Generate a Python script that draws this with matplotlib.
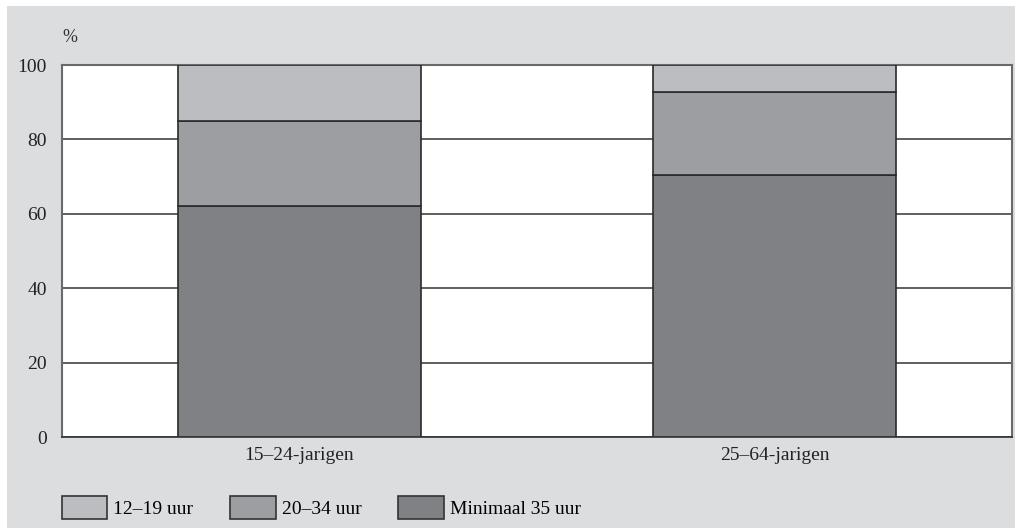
import matplotlib.pyplot as plt
from matplotlib.patches import Rectangle

groups = ["15–24-jarigen", "25–64-jarigen"]
series = ["12–19 uur", "20–34 uur", "Minimaal 35 uur"]
min35 = [62, 70.4]
uur20_34 = [23, 22.4]
uur12_19 = [15, 7.2]
yticks = [0, 20, 40, 60, 80, 100]

colors = {"12–19 uur": "#bcbdc0", "20–34 uur": "#9d9ea2", "Minimaal 35 uur": "#808185"}
bg = "#dcdddf"

plt.rcParams["font.family"] = ["Liberation Serif", "DejaVu Serif"]

fig = plt.figure(figsize=(10.15, 5.28), dpi=100, facecolor="white")
fig.patches.append(Rectangle((7 / 1015, 0), 1, 1 - 6 / 528, transform=fig.transFigure,
                             facecolor=bg, edgecolor="none", zorder=-10))
ax = fig.add_axes([62 / 1015, 91 / 528, 950 / 1015, 372 / 528])
ax.set_facecolor("white")

x = range(len(groups))
w = 0.51
bottom2 = [a + b for a, b in zip(min35, uur20_34)]
b1 = ax.bar(x, min35, w, color=colors["Minimaal 35 uur"], edgecolor="#2a2a2a", linewidth=1.2,
            label="Minimaal 35 uur", zorder=3)
b2 = ax.bar(x, uur20_34, w, bottom=min35, color=colors["20–34 uur"], edgecolor="#2a2a2a",
            linewidth=1.2, label="20–34 uur", zorder=3)
b3 = ax.bar(x, uur12_19, w, bottom=bottom2, color=colors["12–19 uur"], edgecolor="#2a2a2a",
            linewidth=1.2, label="12–19 uur", zorder=3)

ax.set_xlim(-0.5, 1.5)
ax.set_ylim(0, 100)
ax.set_yticks(yticks)
ax.set_xticks(list(x))
ax.set_xticklabels(groups)
ax.tick_params(length=0, labelsize=14, colors="#222222", pad=11)
ax.tick_params(axis="x", pad=7)
ax.yaxis.grid(True, color="#333333", linewidth=1.1, zorder=1)
ax.set_axisbelow(True)
for side in ["left", "top", "right"]:
    ax.spines[side].set_color("#6a6a6a")
    ax.spines[side].set_linewidth(1.5)
ax.spines["bottom"].set_color("#333333")
ax.spines["bottom"].set_linewidth(1.2)

fig.text(62 / 1015, 1 - 37 / 528, "%", fontsize=13, color="#333333", va="center", ha="left")

leg = fig.legend([b3, b2, b1], series, loc="lower left", bbox_to_anchor=(44 / 1015, -8 / 528),
                 ncol=3, frameon=False, fontsize=14, handlelength=2.35, handleheight=1.4,
                 handletextpad=0.3, columnspacing=1.9)
for h in leg.legend_handles:
    h.set_edgecolor("#333333")

fig.savefig("out.png", dpi=100, facecolor=fig.get_facecolor())
